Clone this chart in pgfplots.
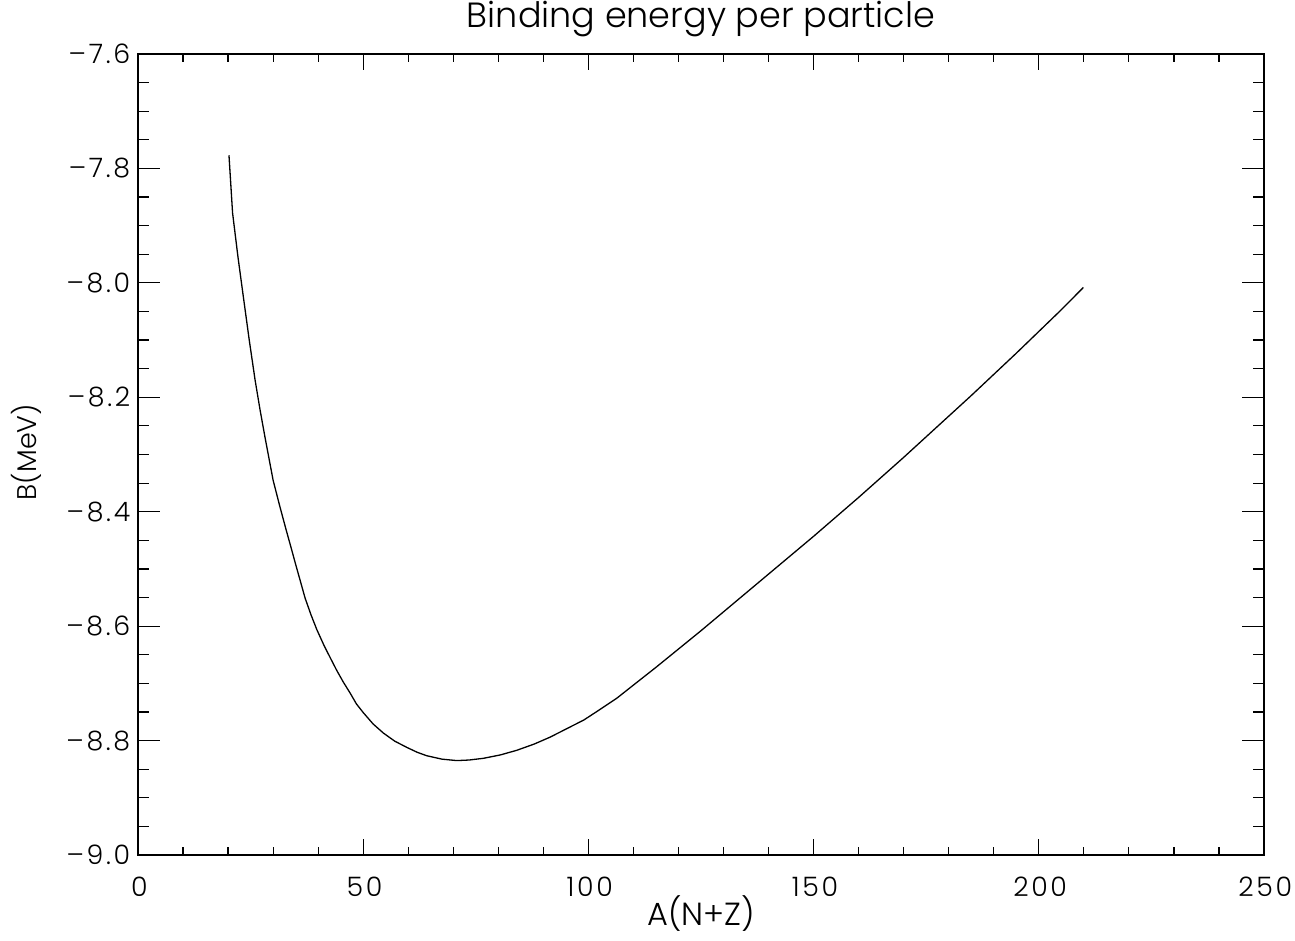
\documentclass[border=0pt]{standalone}
\usepackage{fontspec}
\setmainfont{Poppins Light}
\newfontfamily\tickfont{Poppins Light}[LetterSpace=10]
\usepackage{pgfplots}
\pgfplotsset{compat=1.18}

% binding energy per nucleon
\pgfplotstableread{
A      B
20.2  -7.777
21.0  -7.878
22.2  -7.955
23.4  -8.025
24.7  -8.100
26.0  -8.170
27.1  -8.222
28.2  -8.270
30.0  -8.345
31.5  -8.391
32.9  -8.432
34.1  -8.466
35.0  -8.492
36.0  -8.520
37.1  -8.551
38.4  -8.580
39.7  -8.606
41.2  -8.632
42.6  -8.654
44.1  -8.677
45.6  -8.698
47.1  -8.717
48.5  -8.736
50.0  -8.751
52.2  -8.771
54.5  -8.787
57.0  -8.801
59.7  -8.812
62.0  -8.8205
64.1  -8.8265
67.5  -8.8325
70.8  -8.835
73.5  -8.834
76.7  -8.831
80.5  -8.825
84.1  -8.817
88.0  -8.806
91.5  -8.794
95.0  -8.780
99.0  -8.764
102.5 -8.746
106.3 -8.726
110.0 -8.703
115.0 -8.672
120.0 -8.640
125.0 -8.608
130.0 -8.575
135.0 -8.542
140.0 -8.509
145.0 -8.476
150.0 -8.443
155.0 -8.409
160.0 -8.375
165.0 -8.340
170.0 -8.305
175.0 -8.269
180.0 -8.233
185.0 -8.197
190.0 -8.160
195.0 -8.123
200.0 -8.085
205.0 -8.047
209.9 -8.008
}\bedata

\begin{document}
\begin{tikzpicture}
\begin{axis}[
  at={(0,0)},anchor=south west,
  scale only axis,width=563pt,height=400.5pt,
  xmin=0,xmax=250,ymin=-9.0,ymax=-7.6,
  xtick={0,50,100,150,200,250},
  xticklabels={0,50,100,150,200,250},
  minor x tick num=4,
  ytick={-9.0,-8.8,-8.6,-8.4,-8.2,-8.0,-7.8,-7.6},
  yticklabels={–9.0,–8.8,–8.6,–8.4,–8.2,–8.0,–7.8,–7.6},
  minor y tick num=3,
  tick align=inside,
  major tick length=11pt,minor tick length=5.5pt,
  major x tick style={/pgfplots/major tick length=8pt},
  minor x tick style={/pgfplots/minor tick length=4pt},
  every tick/.style={black,line width=0.6pt},
  axis line style={black,line width=0.7pt},
  ticklabel style={font=\tickfont\fontsize{13.4pt}{15pt}\selectfont,black},
  xticklabel style={inner sep=0pt,yshift=-11pt,xshift=0.65pt},
  yticklabel style={inner sep=0pt,xshift=-3.7pt},
  title={Binding energy per particle},
  title style={at={(axis description cs:0.5,1.0187)},anchor=base,inner sep=0pt,
    font=\fontsize{17.5pt}{20pt}\selectfont},
  xlabel={A(N+Z)},
  xlabel style={at={(axis description cs:0.5,-0.0874)},anchor=base,inner sep=0pt,
    font=\fontsize{16pt}{18pt}\selectfont},
  ylabel={B(MeV)},
  ylabel style={at={(axis description cs:-0.0897,0.503)},anchor=base,inner sep=0pt,rotate=0,
    font=\fontsize{13.5pt}{16pt}\selectfont},
]
\addplot[black,line width=0.65pt,no marks] table[x=A,y=B] {\bedata};
\end{axis}
\pgfresetboundingbox
\path (-69pt,-43pt) rectangle (578.5pt,427.5pt);
\end{tikzpicture}
\end{document}
